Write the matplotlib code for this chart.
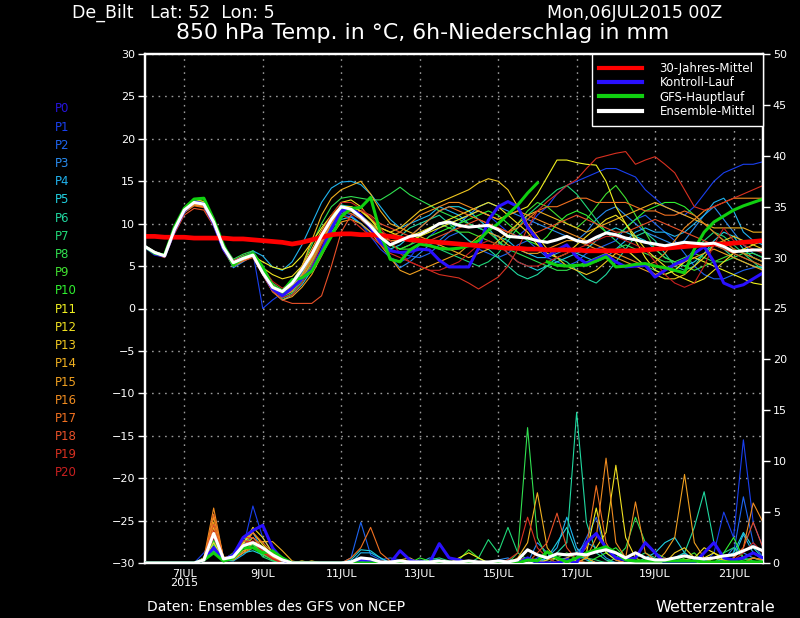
import matplotlib
matplotlib.use("Agg")
from matplotlib import pyplot as plt
from matplotlib.lines import Line2D
import numpy as np

# 6-hourly steps, days since 06JUL2015 00Z
steps = np.arange(64) * 0.25

date_ticks = [1, 3, 5, 7, 9, 11, 13, 15]
date_labels = ["7JUL\n2015", "9JUL", "11JUL", "13JUL", "15JUL", "17JUL", "19JUL", "21JUL"]

member_names = ["P%d" % i for i in range(21)]
member_colors = ["#2614dc", "#1a40f0", "#1e64f0", "#2a8cf0", "#20b4f0", "#20d0e0", "#20d8a0",
                 "#20d878", "#30e050", "#40e030", "#30f030", "#f0f020", "#f0e020", "#f0c820",
                 "#f0b020", "#f0a020", "#f08c20", "#f07020", "#e85028", "#d83020", "#c82020"]

# 850 hPa temperature (degC)
clim_t = [8.5, 8.5, 8.4, 8.4, 8.4, 8.3, 8.3, 8.3, 8.3, 8.2, 8.2, 8.1, 8.0, 7.9, 7.8, 7.6,
          7.8, 8.1, 8.4, 8.7, 8.8, 8.8, 8.7, 8.7, 8.6, 8.5, 8.3, 8.1, 8.0, 7.9, 7.8, 7.7,
          7.6, 7.5, 7.4, 7.3, 7.2, 7.1, 7.1, 7.0, 7.0, 6.9, 6.9, 6.9, 6.9, 6.8, 6.8, 6.8,
          6.8, 6.8, 6.8, 6.9, 7.0, 7.1, 7.2, 7.3, 7.4, 7.5, 7.6, 7.6, 7.7, 7.8, 7.9, 8.0]
mean_t = [7.3, 6.6, 6.2, 9.3, 11.6, 12.5, 12.3, 10.2, 7.2, 5.4, 5.9, 6.3, 4.2, 2.5, 2.0, 3.0,
          4.6, 6.4, 8.6, 10.5, 12.0, 11.7, 10.8, 9.7, 8.4, 7.5, 8.0, 8.5, 8.7, 9.3, 10.0, 10.2,
          9.8, 9.6, 9.7, 9.8, 9.3, 8.5, 8.4, 8.3, 8.0, 7.8, 8.1, 8.5, 8.0, 7.8, 8.4, 8.9,
          8.7, 8.3, 8.1, 7.8, 7.6, 7.4, 7.6, 7.8, 7.7, 7.6, 7.7, 7.3, 6.7, 6.8, 6.9, 6.9]
ctrl_t = [7.3, 6.4, 6.2, 9.2, 11.5, 12.6, 12.3, 10.0, 7.0, 5.3, 6.0, 6.5, 4.3, 2.3, 1.5, 2.4,
          3.5, 4.6, 6.8, 9.4, 11.5, 11.8, 11.0, 9.5, 7.8, 6.8, 6.6, 6.7, 7.0, 6.9, 5.7, 4.9,
          4.9, 4.9, 7.1, 10.4, 12.0, 12.6, 12.0, 9.6, 8.1, 6.1, 6.9, 7.5, 6.1, 5.3, 5.8, 6.3,
          5.5, 4.9, 5.0, 5.1, 3.7, 4.5, 5.2, 5.7, 6.5, 7.3, 5.5, 3.0, 2.5, 2.8, 3.5, 4.2]
gfs_hi_t = [7.3, 6.5, 6.3, 9.6, 11.8, 12.9, 13.0, 10.5, 7.5, 5.1, 6.0, 6.5, 4.9, 2.6, 2.0, 3.4,
            3.6, 4.4, 6.5, 8.5, 10.8, 11.8, 11.9, 13.1, 8.9, 5.8, 5.5, 6.9, 7.6, 7.4, 7.1, 7.0,
            7.1, 7.4, 8.0, 9.2, 10.0, 11.1, 12.2, 13.6, 14.8]
gfs_lo_t = [5.5, 5.1, 5.0, 5.1, 5.1, 5.6, 6.1, 4.9, 5.0, 5.2, 5.3, 5.0, 4.8, 4.5, 4.2, 7.0,
            9.0, 10.2, 10.9, 11.6, 12.1, 12.5, 12.9]

t_p1 = [7.3, 6.5, 6.2, 9.0, 11.4, 12.3, 12.0, 10.0, 7.0, 5.6, 6.2, 6.6, 0.0, 1.0, 1.8, 2.5,
        4.0, 6.0, 8.5, 10.5, 11.5, 11.0, 10.0, 8.5, 7.0, 6.0, 5.5, 6.0, 7.5, 8.5, 9.5, 10.0,
        10.5, 11.0, 11.5, 11.0, 10.0, 9.0, 8.5, 9.5, 11.0, 12.0, 13.5, 14.5, 15.0, 15.5, 16.0, 16.5,
        16.5, 16.0, 15.5, 14.0, 13.0, 12.0, 11.5, 11.0, 12.0, 13.5, 15.0, 16.0, 16.5, 17.0, 17.0, 17.3]
t_p2 = [7.3, 6.6, 6.3, 9.4, 11.7, 12.6, 12.4, 10.4, 7.4, 5.2, 5.8, 6.4, 4.0, 2.2, 1.5, 2.6,
        4.2, 6.0, 8.0, 9.8, 11.0, 10.8, 10.0, 9.0, 8.0, 7.0, 6.5, 6.2, 6.0, 6.5, 7.5, 8.5,
        9.0, 8.0, 7.0, 6.5, 6.0, 6.5, 7.5, 8.0, 7.0, 6.0, 5.5, 5.0, 5.5, 6.5, 7.0, 7.5,
        8.0, 9.5, 10.5, 11.0, 10.0, 9.0, 8.0, 6.5, 5.0, 4.0, 3.5, 3.5, 4.0, 4.5, 4.8, 5.0]
t_p3 = [7.2, 6.5, 6.1, 9.1, 11.3, 12.2, 12.1, 10.1, 7.1, 4.8, 5.5, 6.2, 4.5, 2.8, 1.8, 2.3,
        3.5, 5.5, 7.8, 10.0, 11.5, 11.5, 10.5, 9.5, 8.0, 6.0, 4.8, 5.5, 6.5, 7.5, 8.0, 9.0,
        10.0, 11.0, 12.0, 12.5, 12.0, 11.5, 11.0, 10.5, 10.0, 9.5, 9.0, 8.5, 8.0, 9.0, 10.5, 11.5,
        12.0, 11.0, 10.0, 9.0, 8.5, 8.0, 7.5, 8.0, 9.5, 11.0, 12.0, 10.5, 9.0, 7.5, 6.5, 6.0]
t_p4 = [7.3, 6.6, 6.2, 9.2, 11.5, 12.4, 12.2, 10.2, 7.3, 5.5, 6.0, 6.8, 6.2, 4.9, 4.5, 5.5,
        7.5, 10.0, 12.5, 14.2, 14.9, 15.0, 14.6, 13.5, 12.0, 10.5, 9.5, 10.0, 10.5, 11.0, 12.0, 11.5,
        11.0, 10.0, 9.5, 9.0, 8.5, 8.0, 7.0, 6.5, 6.0, 6.0, 6.5, 7.0, 6.5, 6.0, 5.5, 6.0,
        7.0, 8.0, 9.0, 9.5, 9.0, 9.0, 8.5, 9.0, 10.0, 11.0, 12.5, 13.0, 11.5, 9.0, 8.0, 7.5]
t_p5 = [7.4, 6.7, 6.3, 9.5, 11.8, 12.7, 12.5, 10.3, 7.2, 5.0, 5.7, 6.3, 4.6, 2.0, 1.0, 1.6,
        2.8, 4.5, 6.8, 9.0, 10.5, 10.8, 10.0, 9.0, 8.0, 7.0, 7.5, 8.5, 9.5, 10.5, 11.5, 12.0,
        12.0, 11.5, 10.5, 9.5, 8.0, 6.5, 5.5, 5.0, 4.5, 5.0, 5.5, 6.0, 6.5, 7.0, 8.0, 9.0,
        9.5, 9.0, 8.5, 8.0, 7.0, 6.0, 5.5, 5.0, 5.5, 6.5, 8.0, 9.0, 8.5, 7.0, 6.0, 5.5]
t_p6 = [7.3, 6.6, 6.2, 9.3, 11.6, 12.5, 12.3, 10.2, 7.2, 5.6, 6.1, 6.5, 4.4, 2.6, 1.5, 2.2,
        3.8, 5.8, 8.2, 10.5, 12.2, 12.0, 11.0, 10.0, 9.0, 8.5, 8.5, 9.5, 10.0, 10.5, 11.0, 10.0,
        9.0, 8.0, 7.5, 7.0, 6.0, 5.0, 4.0, 3.5, 4.0, 5.0, 6.0, 5.5, 4.5, 3.5, 3.0, 4.0,
        5.5, 7.0, 8.5, 9.0, 8.0, 6.5, 5.0, 4.5, 5.0, 6.5, 7.5, 7.0, 6.0, 5.5, 5.0, 4.8]
t_p7 = [7.2, 6.4, 6.1, 9.0, 11.3, 12.2, 12.0, 10.0, 7.0, 5.2, 5.9, 6.6, 4.2, 2.4, 1.2, 1.8,
        3.2, 5.2, 7.6, 9.8, 11.2, 11.5, 11.0, 10.0, 8.5, 7.5, 7.0, 7.5, 8.0, 7.5, 7.0, 6.5,
        6.0, 5.5, 5.0, 5.5, 6.5, 8.0, 9.5, 11.0, 12.0, 13.0, 14.0, 14.5, 13.5, 12.0, 10.5, 9.0,
        8.0, 7.0, 6.0, 5.0, 4.5, 4.0, 4.5, 5.5, 7.0, 8.0, 9.0, 8.5, 7.5, 6.5, 5.5, 4.5]
t_p8 = [7.3, 6.5, 6.2, 9.4, 11.7, 12.8, 12.6, 10.5, 7.5, 5.8, 6.4, 6.8, 5.0, 3.0, 2.2, 3.2,
        5.0, 7.5, 10.0, 12.0, 13.0, 13.2, 13.0, 12.8, 12.8, 13.5, 14.3, 13.4, 12.8, 12.2, 11.5, 11.0,
        10.5, 10.0, 9.5, 9.0, 8.0, 7.0, 6.5, 6.0, 5.5, 5.0, 4.5, 4.5, 5.0, 5.5, 6.0, 6.5,
        7.0, 7.5, 7.0, 6.5, 6.0, 5.5, 5.5, 6.0, 6.5, 6.0, 5.5, 5.5, 6.0, 6.5, 6.5, 6.0]
t_p9 = [7.3, 6.6, 6.3, 9.3, 11.6, 12.6, 12.4, 10.3, 7.3, 5.4, 6.0, 6.4, 4.3, 2.5, 1.8, 2.8,
        4.5, 6.5, 8.8, 10.8, 12.0, 12.0, 11.5, 10.5, 9.0, 7.5, 7.0, 7.5, 8.5, 9.5, 10.0, 9.5,
        9.0, 9.0, 8.5, 8.0, 7.5, 8.5, 10.0, 11.5, 12.5, 12.0, 11.0, 10.0, 9.5, 10.5, 12.0, 13.5,
        14.5, 13.0, 11.0, 9.0, 7.0, 6.0, 5.5, 5.0, 4.5, 5.0, 5.5, 6.0, 6.5, 6.0, 5.5, 5.0]
t_p10 = [7.3, 6.5, 6.2, 9.2, 11.5, 12.4, 12.2, 10.2, 7.2, 5.3, 5.9, 6.5, 4.1, 2.2, 1.4, 2.0,
         3.5, 5.5, 8.0, 10.2, 11.8, 11.8, 11.0, 10.0, 8.5, 7.5, 7.0, 7.0, 7.5, 8.5, 9.0, 9.5,
         10.0, 10.5, 11.0, 11.5, 11.0, 10.0, 9.0, 8.0, 7.5, 8.5, 10.0, 11.0, 11.5, 11.0, 10.0, 9.0,
         8.5, 9.5, 10.5, 11.5, 12.0, 12.5, 12.5, 12.0, 11.0, 10.0, 9.0, 8.0, 7.0, 6.5, 6.0, 5.5]
t_p11 = [7.3, 6.6, 6.2, 9.4, 11.7, 12.6, 12.3, 10.1, 7.1, 5.0, 5.6, 6.2, 5.5, 4.9, 4.6, 5.0,
         6.2, 7.8, 9.5, 11.0, 12.0, 12.0, 11.5, 10.5, 9.5, 9.0, 8.5, 8.0, 8.5, 9.0, 9.5, 10.0,
         10.5, 11.0, 11.5, 11.0, 10.5, 11.0, 11.5, 12.0, 13.5, 15.5, 17.5, 17.5, 17.2, 17.0, 16.9, 15.0,
         12.0, 10.0, 8.0, 6.0, 4.5, 4.0, 4.5, 5.5, 6.0, 5.5, 5.0, 4.5, 4.0, 3.5, 3.0, 2.8]
t_p12 = [7.4, 6.7, 6.3, 9.5, 11.9, 12.9, 12.6, 10.4, 7.3, 5.6, 6.2, 6.6, 4.8, 4.0, 3.5, 3.8,
         5.0, 7.0, 9.2, 11.0, 12.5, 12.8, 12.0, 10.5, 9.0, 8.0, 8.0, 8.5, 9.0, 9.5, 10.0, 10.5,
         11.0, 11.5, 12.0, 12.5, 12.0, 11.0, 10.0, 9.0, 7.5, 6.5, 6.0, 6.5, 7.5, 8.5, 9.5, 10.5,
         11.0, 10.0, 8.5, 7.0, 6.0, 5.0, 4.0, 3.5, 3.0, 3.5, 4.5, 5.5, 6.5, 7.0, 7.5, 8.0]
t_p13 = [7.3, 6.5, 6.2, 9.3, 11.6, 12.5, 12.2, 10.1, 7.1, 5.5, 6.0, 6.4, 4.5, 2.8, 2.0, 2.6,
         4.0, 6.0, 8.5, 10.5, 12.0, 12.0, 11.5, 10.5, 9.5, 9.0, 9.5, 10.5, 11.5, 12.0, 12.5, 13.0,
         13.5, 14.0, 14.8, 15.3, 15.0, 14.0, 12.0, 10.0, 8.5, 7.0, 6.0, 5.0, 4.5, 4.0, 4.5, 5.5,
         6.5, 7.0, 6.0, 5.0, 4.0, 3.5, 3.5, 4.0, 5.0, 6.0, 7.5, 8.0, 8.5, 8.0, 7.5, 7.0]
t_p14 = [7.3, 6.6, 6.3, 9.3, 11.6, 12.4, 12.1, 10.0, 7.0, 5.4, 5.9, 6.3, 4.4, 2.5, 2.0, 3.0,
         5.0, 8.0, 11.0, 13.0, 14.0, 14.5, 15.0, 13.5, 11.5, 10.0, 9.5, 9.0, 8.5, 8.0, 7.5, 7.0,
         6.5, 6.0, 6.5, 7.0, 8.0, 9.0, 10.0, 11.0, 11.5, 11.0, 10.5, 10.0, 9.5, 9.0, 9.5, 10.0,
         10.5, 11.0, 11.5, 12.0, 12.5, 12.0, 11.5, 11.0, 10.5, 10.0, 9.5, 9.5, 9.5, 9.5, 9.0, 9.0]
t_p15 = [7.2, 6.4, 6.1, 9.1, 11.4, 12.2, 12.0, 9.9, 6.9, 5.4, 6.0, 6.4, 4.0, 2.0, 1.0, 1.4,
         2.5, 4.0, 6.2, 8.5, 10.2, 10.5, 10.0, 9.0, 7.5, 6.0, 4.5, 4.0, 4.5, 5.0, 5.5, 6.0,
         6.5, 7.5, 8.5, 9.0, 8.5, 7.5, 7.0, 6.5, 6.5, 7.0, 7.5, 8.0, 8.0, 7.5, 7.0, 6.5,
         6.0, 5.5, 5.0, 4.5, 4.0, 4.5, 5.0, 5.5, 6.0, 6.5, 7.0, 6.5, 6.0, 5.5, 5.0, 4.5]
t_p16 = [7.3, 6.6, 6.2, 9.2, 11.5, 12.3, 12.0, 10.0, 7.0, 5.3, 5.8, 6.3, 4.2, 2.4, 1.5, 2.0,
         3.5, 5.5, 7.8, 10.0, 11.5, 11.5, 11.0, 10.0, 9.0, 8.5, 9.0, 10.0, 11.0, 11.5, 12.0, 12.5,
         12.5, 12.0, 11.5, 11.0, 10.5, 11.0, 11.5, 11.0, 10.5, 10.0, 9.5, 9.0, 8.5, 8.0, 7.5, 7.0,
         6.5, 6.0, 5.5, 5.0, 5.5, 6.5, 8.0, 9.5, 10.5, 11.5, 12.0, 12.5, 13.0, 13.0, 13.0, 13.0]
t_p17 = [7.3, 6.5, 6.1, 9.0, 11.3, 12.1, 11.9, 9.9, 6.9, 5.2, 5.8, 6.2, 4.2, 2.5, 1.6, 2.2,
         3.8, 5.8, 8.0, 10.2, 11.5, 11.2, 10.5, 9.5, 8.5, 8.0, 8.0, 8.5, 9.5, 10.5, 11.5, 12.0,
         11.5, 11.0, 10.5, 10.0, 9.5, 9.0, 9.5, 10.5, 11.5, 12.0, 12.0, 12.5, 13.0, 13.0, 12.5, 12.5,
         12.5, 12.5, 12.0, 11.5, 11.5, 11.0, 11.0, 11.5, 11.0, 10.0, 9.0, 8.0, 7.0, 6.5, 6.0, 5.5]
t_p18 = [7.2, 6.4, 6.0, 8.8, 11.0, 11.8, 11.6, 9.7, 6.8, 5.0, 5.6, 6.0, 4.0, 2.0, 1.0, 0.6,
         0.6, 0.6, 1.5, 5.0, 9.0, 11.0, 11.5, 11.0, 10.0, 9.5, 9.0, 8.5, 8.0, 8.0, 8.5, 9.0,
         9.5, 10.0, 10.5, 10.0, 9.5, 9.0, 8.5, 8.5, 9.0, 9.5, 10.0, 10.5, 11.0, 10.5, 10.0, 9.5,
         9.0, 9.0, 9.5, 10.0, 10.5, 10.0, 9.5, 9.0, 8.5, 8.0, 7.5, 7.0, 6.5, 6.0, 5.5, 5.0]
t_p19 = [7.3, 6.5, 6.2, 9.2, 11.5, 12.4, 12.2, 10.1, 7.1, 5.3, 5.8, 6.2, 4.0, 2.2, 1.3, 1.6,
         3.0, 5.0, 7.5, 9.5, 11.0, 10.5, 9.5, 8.5, 7.5, 6.5, 6.0, 5.5, 5.0, 4.5, 4.0, 3.8,
         3.6, 3.0, 2.3, 3.0, 3.7, 5.0, 7.0, 9.5, 11.5, 12.6, 13.5, 14.5, 15.2, 16.5, 17.7, 18.0,
         18.3, 18.5, 17.0, 17.5, 17.9, 17.0, 16.0, 14.0, 12.0, 11.6, 12.0, 12.5, 13.0, 13.5, 14.0, 14.5]
t_p20 = [7.3, 6.6, 6.3, 9.4, 11.8, 12.7, 12.4, 10.3, 7.3, 5.6, 6.1, 6.6, 4.8, 3.2, 2.4, 3.0,
         4.8, 6.8, 9.0, 11.0, 12.5, 12.5, 11.8, 10.8, 9.5, 8.0, 6.5, 5.5, 5.0, 4.5, 4.5, 5.0,
         5.5, 6.5, 7.5, 8.0, 7.5, 6.5, 5.5, 5.0, 5.0, 5.5, 6.0, 6.5, 7.0, 7.5, 8.0, 8.5,
         8.5, 8.0, 7.5, 7.0, 5.5, 4.0, 3.0, 2.5, 3.0, 5.0, 7.5, 9.5, 8.0, 7.5, 7.0, 6.5]

# 6h precipitation (mm)
mean_rr = [0, 0, 0, 0, 0, 0, 0.3, 2.9, 0.4, 0.6, 1.7, 2.0, 1.5, 0.8, 0.3, 0,
           0, 0, 0, 0, 0, 0.1, 0.5, 0.4, 0.1, 0.1, 0.2, 0.1, 0.1, 0.1, 0.2, 0.1,
           0.1, 0.2, 0.1, 0.1, 0.2, 0.1, 0.3, 1.3, 0.8, 0.5, 0.9, 0.8, 0.9, 0.8, 1.1, 1.3,
           1.0, 0.5, 1.0, 0.5, 0.3, 0.3, 0.5, 0.7, 0.5, 0.4, 0.5, 0.7, 0.8, 1.2, 1.6, 1.2]
ctrl_rr = [0, 0, 0, 0, 0, 0, 0.3, 1.5, 0.3, 0.8, 2.5, 3.2, 3.7, 1.5, 0.3, 0,
           0, 0, 0, 0, 0, 0, 0.3, 0.2, 0, 0, 1.2, 0.3, 0, 0, 1.9, 0.5,
           0.3, 0, 0, 0, 0, 0, 0, 0.5, 0, 0, 0, 0.3, 0, 2.0, 2.9, 1.5,
           0.5, 0.3, 0.5, 2.0, 1.0, 0, 0, 0, 0, 1.0, 2.0, 0.5, 0.3, 0.5, 1.0, 0.5]
gfs_rr = [0, 0, 0, 0, 0, 0, 0.3, 1.0, 0.2, 0.5, 1.5, 1.5, 1.0, 1.2, 0.5, 0,
          0, 0, 0, 0, 0, 0, 0, 0, 0, 0, 0, 0, 0, 0, 0, 0,
          0, 0, 0, 0, 0, 0, 0, 0.3, 0.2, 1.1, 0.5, 0.1, 0.5, 1.0, 1.3, 1.6,
          1.0, 0.3, 0.2, 0.2, 0.2, 0.2, 0.2, 0.2, 0.2, 0.1, 0.1, 0.1, 0.1, 0.1, 0.1, 0.1]
rr_p1 = [0, 0, 0, 0, 0, 0, 1.0, 2.5, 0.3, 0.5, 1.5, 5.6, 2.5, 1.0, 0.3, 0,
         0, 0, 0, 0, 0, 0.2, 0.5, 0, 0, 0, 0, 0, 0.3, 0, 0, 0,
         0, 0, 0, 0, 0, 0, 0, 0, 0, 0, 0, 0.5, 0, 0, 0, 0,
         0, 0, 0, 0, 0, 0.3, 0.5, 0, 0, 0, 1.0, 5.0, 2.5, 12.1, 4.0, 1.5]
rr_p2 = [0, 0, 0, 0, 0, 0, 0.5, 1.2, 0.2, 0.8, 2.0, 2.5, 1.5, 0.8, 0.2, 0,
         0, 0, 0, 0, 0, 0.5, 4.0, 0.8, 0.3, 0.5, 0.3, 0, 0, 0, 0, 0,
         0, 0, 0, 0, 0, 0, 0, 0, 0.5, 1.0, 0.5, 0, 0.5, 2.5, 4.5, 1.0,
         0.3, 0, 0, 0, 0, 0, 0.5, 1.0, 0.3, 0, 0, 0.5, 1.0, 6.5, 2.0, 0.5]
rr_p3 = [0, 0, 0, 0, 0, 0, 0.2, 3.0, 0.5, 0.5, 1.8, 3.0, 1.2, 0.5, 0, 0,
         0, 0, 0, 0, 0, 0, 0, 0, 0, 0, 0, 0, 0, 0.5, 0.3, 0,
         0, 0, 0, 0, 0.3, 0.5, 0, 0, 2.0, 1.0, 0.3, 0.5, 1.0, 2.0, 1.5, 0.5,
         0, 0, 0, 0, 0, 0, 0, 0.3, 0.5, 0.2, 0, 0.3, 1.5, 1.0, 0.5, 0.2]
rr_p4 = [0, 0, 0, 0, 0, 0, 0.3, 1.5, 0.3, 0.2, 0.8, 1.5, 1.0, 0.6, 0.2, 0,
         0, 0, 0, 0, 0, 0, 1.0, 1.0, 0.5, 0, 0, 0, 0, 0, 0, 0,
         0, 0, 0, 0, 0, 0, 0, 0, 0, 0.5, 1.5, 4.5, 1.5, 0.5, 0, 0,
         0, 0, 0, 0, 0, 0, 0.3, 0, 0, 0, 0, 0, 0.5, 2.8, 1.0, 0.3]
rr_p5 = [0, 0, 0, 0, 0, 0, 0.5, 2.0, 0.4, 0.3, 1.0, 1.2, 0.8, 0.5, 0.2, 0,
         0, 0, 0, 0, 0, 0.3, 1.3, 1.2, 0.5, 0, 0, 0, 0, 0, 0, 0,
         0, 0, 0, 0, 0, 0.3, 0, 0, 0.2, 0.5, 2.0, 3.5, 1.0, 0.3, 0, 0,
         0, 0, 0, 0.5, 1.0, 2.0, 2.5, 1.0, 0.3, 0, 0, 0.5, 1.0, 3.0, 1.5, 0.5]
rr_p6 = [0, 0, 0, 0, 0, 0, 0.2, 1.0, 0.2, 0.3, 1.5, 2.0, 1.0, 0.3, 0, 0,
         0, 0, 0, 0, 0, 0, 0.2, 0, 0, 0, 0, 0, 0, 0, 0, 0,
         0, 0, 0, 0, 0, 0, 0, 0, 0, 0.3, 1.0, 2.0, 14.8, 4.0, 1.0, 0.3,
         0, 0, 0, 0, 0, 0, 0.5, 1.0, 3.5, 7.0, 2.0, 0.5, 0.3, 0, 0, 0]
rr_p7 = [0, 0, 0, 0, 0, 0, 0.3, 1.8, 0.3, 0.5, 1.2, 1.8, 0.6, 0.2, 0, 0,
         0, 0, 0, 0, 0, 0, 0, 0, 0, 0, 0, 0, 0, 0.3, 0.5, 0.2,
         0, 0, 0.5, 2.3, 1.0, 3.5, 1.0, 0.3, 0, 0, 0, 0, 0.5, 0.5, 0.3, 0,
         0, 0, 0.5, 1.0, 0.5, 0, 0, 0, 0.3, 0, 0.5, 1.0, 1.5, 0.5, 0.2, 0]
rr_p8 = [0, 0, 0, 0, 0, 0, 0.2, 1.2, 0.2, 0.8, 2.5, 2.0, 0.8, 0.3, 0, 0,
         0, 0, 0, 0, 0, 0, 0, 0, 0, 0, 0, 0, 0, 0, 0, 0,
         0, 0, 0, 0, 0, 0, 1.0, 13.3, 2.5, 0.5, 0, 0, 0, 0, 0, 0,
         0.5, 1.5, 4.5, 2.0, 1.0, 0.5, 0, 0, 0, 0, 0, 0, 0, 0.3, 0.5, 0.2]
rr_p9 = [0, 0, 0, 0, 0, 0, 0.3, 1.5, 0.3, 1.0, 2.2, 1.8, 1.2, 0.5, 0.2, 0,
         0, 0, 0, 0, 0, 0, 0, 0, 0, 0, 0, 0, 0, 0, 0, 0,
         0.3, 1.3, 0.5, 0, 0, 0, 0, 0, 0, 0, 0.5, 1.0, 0.3, 0, 0, 0,
         0, 0, 0, 0, 0, 0, 0, 0.5, 1.0, 0, 0.5, 0.3, 0, 0, 0.5, 0.3]
rr_p10 = [0, 0, 0, 0, 0, 0, 0.4, 2.2, 0.4, 0.6, 1.5, 1.5, 0.9, 0.4, 0, 0,
          0, 0, 0, 0, 0, 0, 0, 0, 0, 0, 0, 0, 0.5, 0.2, 0, 0,
          0, 0, 0, 0, 0, 0, 0, 0, 0, 0, 0, 0, 0, 0, 0.5, 1.0,
          1.5, 0.5, 0, 0, 0, 0, 0.5, 0.3, 0, 0, 0, 1.0, 2.5, 0.5, 1.0, 0.5]
rr_p11 = [0, 0, 0, 0, 0, 0, 0.3, 2.8, 0.5, 0.5, 2.0, 3.0, 1.8, 0.8, 0.3, 0,
          0.2, 0, 0, 0, 0, 0, 0, 0, 0, 0, 0, 0, 0, 0, 0, 0,
          0.5, 1.0, 0.5, 0, 0, 0, 0, 0, 0, 0, 0, 0, 0.3, 1.0, 5.4, 1.0,
          0.3, 0, 0, 0, 0, 0, 0, 0, 0, 0.5, 1.0, 0.5, 0, 0, 0, 0]
rr_p12 = [0, 0, 0, 0, 0, 0, 0.2, 2.0, 0.3, 0.5, 1.8, 3.5, 2.5, 1.0, 0.3, 0,
          0, 0.2, 0, 0, 0, 0, 0, 0, 0, 0, 0, 0, 0, 0, 0, 0,
          0, 0, 0, 0, 0, 0, 0, 0, 0, 0.3, 0.5, 0, 0, 0.5, 1.5, 3.0,
          9.6, 2.5, 0.5, 0, 0, 0, 0, 0.3, 0.5, 1.5, 1.0, 0.3, 0, 0, 0, 0]
rr_p13 = [0, 0, 0, 0, 0, 0, 0.5, 3.5, 0.5, 0.5, 1.5, 2.5, 1.5, 0.6, 0.2, 0,
          0, 0, 0, 0, 0, 0, 0, 0, 0, 0, 0.3, 0.5, 0, 0, 0, 0,
          0, 0, 0, 0, 0, 0, 0.3, 0.5, 0.3, 0, 0, 0, 0, 0, 0, 0,
          0, 0, 0, 0, 0, 0, 1.0, 1.5, 0.5, 0, 0.5, 0.3, 0, 0, 0, 0]
rr_p14 = [0, 0, 0, 0, 0, 0, 0.2, 4.5, 0.6, 0.4, 1.0, 2.0, 2.1, 2.1, 1.2, 0.2,
          0, 0, 0, 0, 0, 0, 0, 0, 0, 0, 0, 0, 0, 0, 0, 0,
          0, 0, 0, 0, 0, 0, 0.5, 2.0, 6.9, 1.5, 0.3, 0, 0, 0, 0, 0,
          0, 0, 0, 0, 0, 0, 0, 0, 0, 0, 0, 0, 0, 0, 0, 0]
rr_p15 = [0, 0, 0, 0, 0, 0, 0.4, 4.0, 0.4, 0.5, 1.2, 1.5, 1.0, 0.5, 0.2, 0,
          0, 0, 0, 0, 0, 0, 0, 0, 0, 0, 0, 0, 0, 0, 0, 0,
          0, 0, 0, 0, 0, 0, 0, 0, 0, 0, 0, 0.5, 1.0, 0.5, 0, 0,
          0, 0, 0, 0, 0, 1.0, 2.5, 8.7, 2.0, 0.5, 0, 0, 0, 0, 0.5, 0.3]
rr_p16 = [0, 0, 0, 0, 0, 0, 0.5, 5.4, 0.5, 0.3, 1.0, 1.5, 1.2, 0.5, 0.2, 0,
          0, 0, 0, 0, 0, 0, 0, 0, 0, 0, 0, 0, 0, 0, 0, 0,
          0, 0, 0, 0, 0, 0, 0, 0, 0, 0, 0, 0, 0, 0.5, 2.5, 10.3,
          2.0, 0.5, 6.0, 1.0, 0.3, 0, 0, 0, 0, 0, 0, 0, 0.5, 1.5, 5.9, 4.0]
rr_p17 = [0, 0, 0, 0, 0, 0, 0.3, 4.8, 0.5, 0.5, 1.5, 3.0, 2.0, 1.0, 0.3, 0,
          0, 0, 0, 0, 0, 0.5, 1.5, 3.5, 1.0, 0.2, 0, 0, 0, 0, 0, 0,
          0, 0, 0, 0, 0, 0, 0, 0, 0, 0, 0, 0, 0.5, 1.5, 7.6, 2.0,
          0.3, 0, 0, 0, 0, 0, 0, 0, 0, 0, 0, 0, 0, 0, 0.5, 0.3]
rr_p18 = [0, 0, 0, 0, 0, 0, 0.3, 3.8, 0.5, 0.8, 2.5, 2.5, 1.5, 0.5, 0, 0,
          0, 0, 0, 0, 0, 0, 0, 0, 0, 0, 0, 0, 0, 0, 0, 0,
          0, 0, 0, 0, 0, 0, 0, 0, 1.0, 2.0, 4.9, 1.5, 0.3, 0, 0, 0,
          0, 0, 0, 0, 0, 0, 0, 0, 0, 0, 0, 0, 0.5, 1.5, 4.0, 1.5]
rr_p19 = [0, 0, 0, 0, 0, 0, 0.2, 3.2, 0.4, 0.6, 2.2, 2.0, 1.2, 0.4, 0, 0,
          0, 0, 0, 0, 0, 0, 0, 0, 0, 0, 0, 0, 0, 0, 0, 0,
          0, 0, 0, 0, 0, 0.3, 1.0, 4.5, 1.5, 0.5, 0, 0, 0, 0, 0, 0,
          0, 0, 0, 0, 0, 0, 0, 0, 0, 0, 0, 0, 0, 0, 0, 0]
rr_p20 = [0, 0, 0, 0, 0, 0, 0.2, 2.5, 0.3, 0.5, 1.8, 2.2, 1.0, 0.4, 0, 0,
          0, 0, 0, 0, 0, 0, 0, 0, 0, 0, 0, 0, 0, 0, 0, 0,
          0, 0, 0, 0, 0, 0, 0, 0, 0, 0, 0, 0, 0, 0, 0, 0,
          0, 0, 0, 0, 0.3, 0.5, 0, 0, 0, 0, 0, 0, 0.3, 1.0, 2.0, 1.0]

members_t = [t_p1, t_p2, t_p3, t_p4, t_p5, t_p6, t_p7, t_p8, t_p9, t_p10,
             t_p11, t_p12, t_p13, t_p14, t_p15, t_p16, t_p17, t_p18, t_p19, t_p20]
members_rr = [rr_p1, rr_p2, rr_p3, rr_p4, rr_p5, rr_p6, rr_p7, rr_p8, rr_p9, rr_p10,
              rr_p11, rr_p12, rr_p13, rr_p14, rr_p15, rr_p16, rr_p17, rr_p18, rr_p19, rr_p20]

RED = "#ff0000"
BLUE = "#2a10ff"
GREEN = "#10d010"
GRIDC = "#9a9a9a"

plt.rcParams["font.family"] = "DejaVu Sans"

fig = plt.figure(figsize=(8, 6.18), dpi=100, facecolor="black")
ax = fig.add_axes([145 / 800, 55 / 618, 618 / 800, 509 / 618], facecolor="black")
ax2 = ax.twinx()

# temperature spaghetti
for vals, col in zip(members_t, member_colors[1:]):
    ax.plot(steps, vals, color=col, lw=0.8, zorder=2)
ax.plot(steps, ctrl_t, color=BLUE, lw=2.2, zorder=3)
ax.plot(steps[:len(gfs_hi_t)], gfs_hi_t, color=GREEN, lw=2.2, zorder=3)
ax.plot(steps[len(gfs_hi_t):], gfs_lo_t, color=GREEN, lw=2.2, zorder=3)
ax.plot(steps, clim_t, color=RED, lw=3.4, zorder=4)
ax.plot(steps, mean_t, color="white", lw=2.2, zorder=5)

# precipitation on the right axis
for vals, col in zip(members_rr, member_colors[1:]):
    ax2.plot(steps, vals, color=col, lw=0.8, zorder=2)
ax2.plot(steps, ctrl_rr, color=BLUE, lw=2.2, zorder=3)
ax2.plot(steps, gfs_rr, color=GREEN, lw=2.2, zorder=3)
ax2.plot(steps, mean_rr, color="white", lw=2.2, zorder=4)

ax.set_xlim(0, 15.75)
ax.set_ylim(-30, 30)
ax2.set_ylim(0, 50)
ax.set_yticks(range(-30, 31, 5))
ax2.set_yticks(range(0, 51, 5))
ax.set_xticks(date_ticks)
ax.set_xticklabels(date_labels, linespacing=0.95)

ax.grid(True, color=GRIDC, linestyle=(0, (1.2, 3.5)), lw=1)
for a in (ax, ax2):
    for s in a.spines.values():
        s.set_color("white")
        s.set_linewidth(1.6)
ax.tick_params(axis="y", colors="white", length=5, width=1, labelsize=8, pad=2)
ax2.tick_params(axis="y", colors="white", length=5, width=1, labelsize=8, pad=2)
ax.tick_params(axis="x", colors="white", length=0, labelsize=8, pad=4)

handles = [Line2D([], [], color=RED, lw=3),
           Line2D([], [], color=BLUE, lw=3),
           Line2D([], [], color=GREEN, lw=3),
           Line2D([], [], color="white", lw=3)]
leg = ax2.legend(handles, ["30-Jahres-Mittel", "Kontroll-Lauf", "GFS-Hauptlauf", "Ensemble-Mittel"],
                 loc="upper right", borderaxespad=0, fancybox=False, framealpha=1,
                 facecolor="black", edgecolor="white", fontsize=8.5, handlelength=3.6,
                 handletextpad=1.5, labelspacing=0.12, borderpad=0.65)
leg.get_frame().set_linewidth(1)
for txt in leg.get_texts():
    txt.set_color("white")

# member labels down the left side
for k, (name, col) in enumerate(zip(member_names, member_colors)):
    fig.text(55 / 800, 1 - (109 + k * 18.2) / 618, name, color=col, fontsize=8.5, va="center")

fig.text(72 / 800, 1 - 13 / 618, "De_Bilt   Lat: 52  Lon: 5", color="white", fontsize=12.5, va="center")
fig.text(722 / 800, 1 - 13 / 618, "Mon,06JUL2015 00Z", color="white", fontsize=12.5, va="center", ha="right")
fig.text(423 / 800, 1 - 33 / 618, "850 hPa Temp. in °C, 6h-Niederschlag in mm", color="white",
         fontsize=15.8, va="center", ha="center")
fig.text(147 / 800, 1 - 607 / 618, "Daten: Ensembles des GFS von NCEP", color="white", fontsize=10, va="center")
fig.text(775 / 800, 1 - 607 / 618, "Wetterzentrale", color="white", fontsize=11.5, va="center", ha="right")

fig.savefig("out.png", dpi=100, facecolor="black")
